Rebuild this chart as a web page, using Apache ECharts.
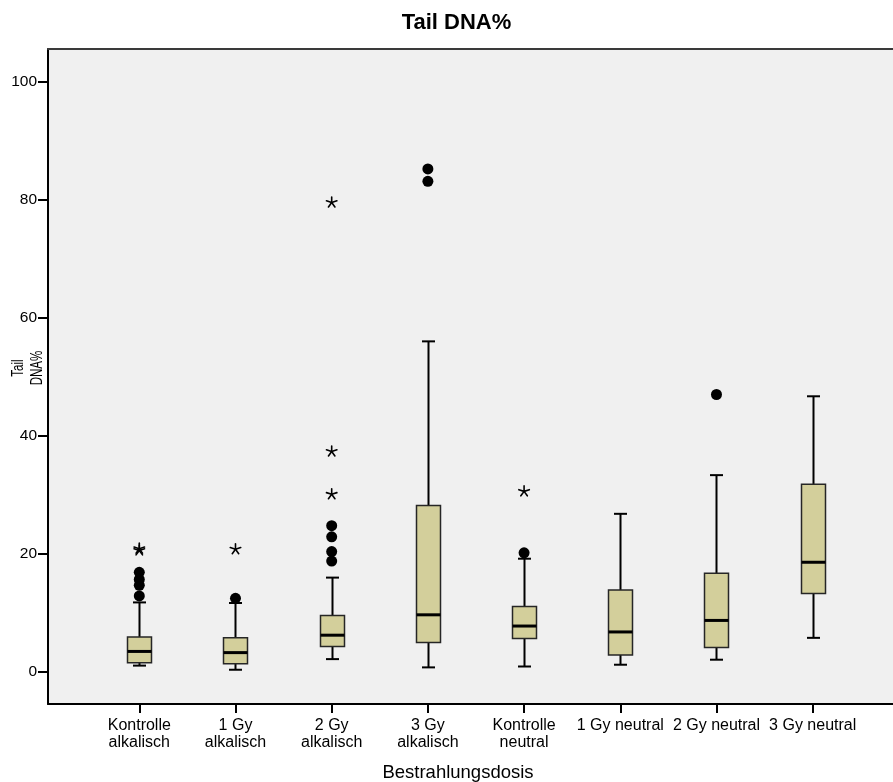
<!DOCTYPE html>
<html>
<head>
<meta charset="utf-8">
<title>Tail DNA%</title>
<script src="https://cdn.jsdelivr.net/npm/echarts@6/dist/echarts.min.js"></script>
<style>
  html, body { margin: 0; padding: 0; background: #ffffff; overflow: hidden; }
  #chart { width: 893px; height: 782px; }
</style>
</head>
<body>
<div id="chart"></div>
<script>
// Groups on the x axis (dose and electrophoresis condition)
const categories = [
  'Kontrolle\nalkalisch', '1 Gy\nalkalisch', '2 Gy\nalkalisch', '3 Gy\nalkalisch',
  'Kontrolle\nneutral', '1 Gy neutral', '2 Gy neutral', '3 Gy neutral'
];

// Box plot statistics per group (Tail DNA %)
const whiskerLow  = [1.1, 0.4, 2.2, 0.8, 0.95, 1.25, 2.1, 5.8];
const quartile1   = [1.6, 1.4, 4.35, 5.0, 5.7, 2.9, 4.15, 13.3];
const medians     = [3.5, 3.3, 6.25, 9.7, 7.8, 6.8, 8.75, 18.6];
const quartile3   = [5.95, 5.8, 9.6, 28.2, 11.1, 13.9, 16.75, 31.8];
const whiskerHigh = [11.8, 11.7, 16.0, 56.0, 19.2, 26.8, 33.35, 46.7];

// Outliers (circles) and extreme values (asterisks): [group index, value]
const outliers = [
  [0, 12.9], [0, 14.7], [0, 15.7], [0, 16.9],
  [1, 12.5],
  [2, 18.8], [2, 20.4], [2, 22.9], [2, 24.8],
  [3, 83.1], [3, 85.2],
  [4, 20.2],
  [6, 47.0]
];
const extremes = [
  [0, 20.6], [0, 20.9],
  [1, 20.8],
  [2, 30.1], [2, 37.35], [2, 79.5],
  [4, 30.6]
];

const yTicks = [0, 20, 40, 60, 80, 100];
const xTicks = categories.map((c, i) => i);

const boxData = categories.map((c, i) =>
  [i, whiskerLow[i], quartile1[i], medians[i], quartile3[i], whiskerHigh[i]]);

const chart = echarts.init(document.getElementById('chart'), null, { renderer: 'canvas' });

const BOX_W = 24;
const CAP_W = 13;
const LINE = { stroke: '#000000', lineWidth: 2 };

function renderBox(params, api) {
  const i = api.value(0);
  const x = Math.round(api.coord([i, 0])[0]) + 0.5;
  const yLo = api.coord([i, api.value(1)])[1];
  const yQ1 = api.coord([i, api.value(2)])[1];
  const yMed = api.coord([i, api.value(3)])[1];
  const yQ3 = api.coord([i, api.value(4)])[1];
  const yHi = api.coord([i, api.value(5)])[1];
  return {
    type: 'group',
    children: [
      { type: 'line', shape: { x1: x, y1: yLo, x2: x, y2: yQ1 }, style: LINE },
      { type: 'line', shape: { x1: x, y1: yQ3, x2: x, y2: yHi }, style: LINE },
      { type: 'line', shape: { x1: x - CAP_W / 2, y1: yLo, x2: x + CAP_W / 2, y2: yLo }, style: LINE },
      { type: 'line', shape: { x1: x - CAP_W / 2, y1: yHi, x2: x + CAP_W / 2, y2: yHi }, style: LINE },
      {
        type: 'rect',
        shape: { x: x - BOX_W / 2, y: yQ3, width: BOX_W, height: yQ1 - yQ3 },
        style: { fill: '#d3cf9b', stroke: '#262626', lineWidth: 1.5 }
      },
      {
        type: 'line',
        shape: { x1: x - BOX_W / 2, y1: yMed, x2: x + BOX_W / 2, y2: yMed },
        style: { stroke: '#000000', lineWidth: 3 }
      }
    ]
  };
}

// Five-armed asterisk marking extreme values
function renderStar(params, api) {
  const p = api.coord([api.value(0), api.value(1)]);
  const arm = 5.5;
  const children = [];
  for (let k = 0; k < 5; k++) {
    const a = -Math.PI / 2 + k * 2 * Math.PI / 5;
    children.push({
      type: 'line',
      shape: { x1: p[0], y1: p[1], x2: p[0] + arm * Math.cos(a), y2: p[1] + arm * Math.sin(a) },
      style: { stroke: '#000000', lineWidth: 1.6, lineCap: 'round' }
    });
  }
  return { type: 'group', children };
}

const option = {
  animation: false,
  backgroundColor: '#ffffff',
  textStyle: { fontFamily: 'Liberation Sans, Arial, sans-serif' },
  // Plot area is open on the right; frame lines come from the axes
  grid: {
    left: 48, top: 49, right: 0, bottom: 78,
    show: true,
    backgroundColor: '#f0f0f0',
    borderWidth: 0
  },
  xAxis: [
    {
      type: 'value',
      min: -0.949,
      max: 7.835,
      axisLine: { show: true, onZero: false, lineStyle: { color: '#000000', width: 2 } },
      axisTick: { show: true, customValues: xTicks, length: 9, lineStyle: { color: '#000000', width: 2 } },
      axisLabel: {
        customValues: xTicks,
        formatter: v => categories[Math.round(v)],
        color: '#000000',
        fontSize: 16,
        lineHeight: 17,
        margin: 13,
        fontFamily: 'Liberation Sans, Arial, sans-serif'
      },
      splitLine: { show: false }
    },
    {
      // top edge of the frame
      type: 'value',
      position: 'top',
      min: -0.949,
      max: 7.835,
      axisLine: { show: true, onZero: false, lineStyle: { color: '#3a3a3a', width: 2 } },
      axisTick: { show: false },
      axisLabel: { show: false },
      splitLine: { show: false }
    }
  ],
  yAxis: {
    type: 'value',
    min: -5.4,
    max: 105.5,
    axisLine: { show: true, onZero: false, lineStyle: { color: '#000000', width: 2 } },
    axisTick: { show: true, customValues: yTicks, length: 10, lineStyle: { color: '#000000', width: 2 } },
    axisLabel: {
      customValues: yTicks,
      color: '#000000',
      fontSize: 15.5,
      margin: 11,
      padding: [4, 0, 0, 0],
      fontFamily: 'Liberation Sans, Arial, sans-serif'
    },
    splitLine: { show: false }
  },
  graphic: [
    {
      type: 'text',
      x: 456.5, y: 23,
      style: {
        text: 'Tail DNA%',
        fill: '#000000',
        font: 'bold 22px "Liberation Sans", Arial, sans-serif',
        align: 'center',
        verticalAlign: 'middle'
      }
    },
    {
      type: 'text',
      x: 458, y: 773,
      style: {
        text: 'Bestrahlungsdosis',
        fill: '#000000',
        font: '18.5px "Liberation Sans", Arial, sans-serif',
        align: 'center',
        verticalAlign: 'middle'
      }
    },
    {
      type: 'text',
      x: 28, y: 368,
      rotation: Math.PI / 2,
      scaleX: 0.7,
      style: {
        text: 'Tail\nDNA%',
        fill: '#000000',
        font: '16.5px "Liberation Sans", Arial, sans-serif',
        lineHeight: 18.5,
        align: 'center',
        verticalAlign: 'middle'
      }
    }
  ],
  series: [
    {
      type: 'custom',
      name: 'Tail DNA%',
      renderItem: renderBox,
      encode: { x: 0, y: [1, 2, 3, 4, 5] },
      data: boxData,
      z: 2
    },
    {
      type: 'scatter',
      name: 'Ausreißer',
      symbol: 'circle',
      symbolSize: 11,
      itemStyle: { color: '#000000', opacity: 1 },
      data: outliers,
      z: 3
    },
    {
      type: 'custom',
      name: 'Extremwerte',
      renderItem: renderStar,
      encode: { x: 0, y: 1 },
      data: extremes,
      z: 3
    }
  ]
};

chart.setOption(option);
</script>
</body>
</html>
